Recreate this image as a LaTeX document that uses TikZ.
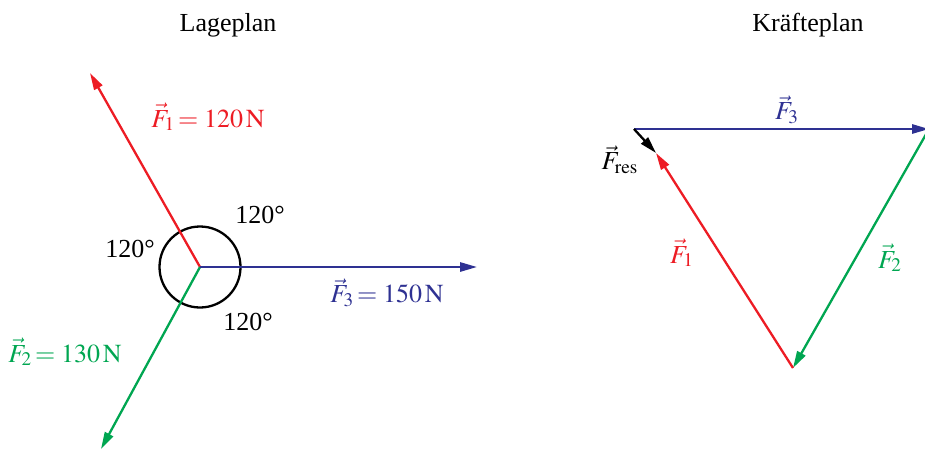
\documentclass[tikz,border=0pt]{standalone}
\usepackage{mathptmx}
\usepackage{fontspec}
\setmainfont{Liberation Serif}
\usetikzlibrary{arrows.meta}

\definecolor{kred}{RGB}{237,28,36}
\definecolor{kblue}{RGB}{46,49,146}
\definecolor{kgreen}{RGB}{0,166,81}

\begin{document}
\begin{tikzpicture}[x=0.5pt, y=0.5pt,
    force/.style={line width=1.15pt, -{Triangle[length=8.5pt, width=4.6pt]}},
    lbl/.style={font=\fontsize{13}{15}\selectfont, inner sep=1pt},
    title/.style={font=\fontsize{13}{15}\selectfont}
]
\useasboundingbox (0,0) rectangle (925,452);

% Lageplan
\node[title] (tl) at (228,427) {Lageplan};
\coordinate (o) at (200,185);
\coordinate (l1) at (90,379);
\coordinate (l2) at (101,3);
\coordinate (l3) at (477,185);
\draw[line width=1.15pt] (o) circle (40.5);
\draw[force, kred] (o) -- (l1);
\draw[force, kgreen] (o) -- (l2);
\draw[force, kblue] (o) -- (l3);
\node[lbl, kred] (lf1) at (208,335) {$\vec F_1\!= 120\,\mathrm{N}$};
\node[lbl, kgreen] (lf2) at (65,100) {$\vec F_2\!= 130\,\mathrm{N}$};
\node[lbl, kblue] (lf3) at (387,159) {$\vec F_3\!= 150\,\mathrm{N}$};
\node[lbl] (wa) at (260,237) {120°};
\node[lbl] (wb) at (130,203) {120°};
\node[lbl] (wc) at (248,130) {120°};

% Kraefteplan
\node[title] (tk) at (808,427) {Kräfteplan};
\coordinate (ka) at (634,323);
\coordinate (kb) at (929,323);
\coordinate (kd) at (793,84);
\coordinate (ke) at (656,299);
\draw[force, kblue] (ka) -- (kb);
\draw[force, kgreen] (kb) -- (kd);
\draw[force, kred] (kd) -- (ke);
\draw[force, black] (ka) -- (ke);
\node[lbl, kblue] (kf3) at (787,342) {$\vec F_3$};
\node[lbl, kgreen] (kf2) at (890,194) {$\vec F_2$};
\node[lbl, kred] (kf1) at (682,199) {$\vec F_1$};
\node[lbl] (kfr) at (620,292) {$\vec F_{\mathrm{res}}$};
\end{tikzpicture}
\end{document}
